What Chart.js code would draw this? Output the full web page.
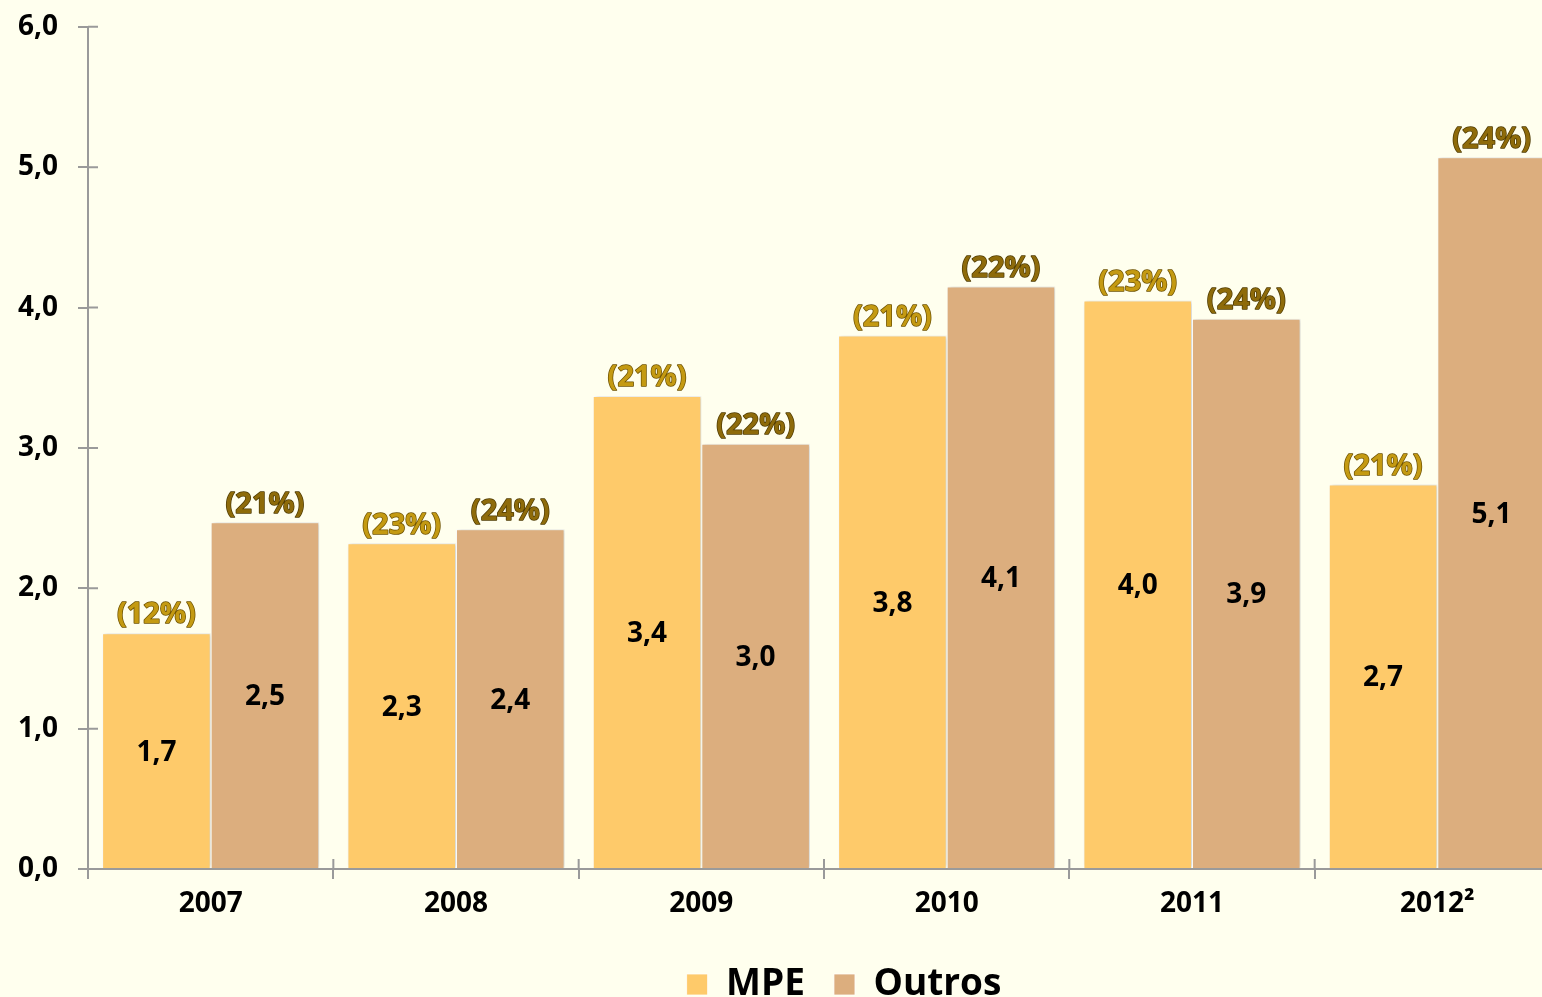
<!DOCTYPE html>
<html>
<head>
<meta charset="utf-8">
<script src="https://cdn.jsdelivr.net/npm/chart.js@4.4.0/dist/chart.umd.min.js"></script>
<style>
  html, body { margin: 0; padding: 0; background: #FFFFEE; overflow: hidden; }
  #wrap { position: absolute; left: 0; top: -10px; width: 1680px; height: 1023px; }
</style>
</head>
<body>
<div id="wrap"><canvas id="c" width="1680" height="1023"></canvas></div>
<script>
const categories = ['2007', '2008', '2009', '2010', '2011', '2012\u00B2'];
const seriesNames = ['MPE', 'Outros'];
const mpeValues = [1.68, 2.32, 3.37, 3.80, 4.05, 2.74];
const outrosValues = [2.47, 2.42, 3.03, 4.15, 3.92, 5.07];
const mpeLabels = ['1,7', '2,3', '3,4', '3,8', '4,0', '2,7'];
const outrosLabels = ['2,5', '2,4', '3,0', '4,1', '3,9', '5,1'];
const mpePct = ['(12%)', '(23%)', '(21%)', '(21%)', '(23%)', '(21%)'];
const outrosPct = ['(21%)', '(24%)', '(22%)', '(22%)', '(24%)', '(24%)'];
const yTicks = [0, 1, 2, 3, 4, 5, 6];

const FONT = '"Open Sans", "Noto Sans", sans-serif';
const AXIS_COLOR = '#9A9A9A';

const labelPlugin = {
  id: 'barLabels',
  afterDatasetsDraw(chart) {
    const ctx = chart.ctx;
    const inner = [mpeLabels, outrosLabels];
    const pcts = [mpePct, outrosPct];
    const pctFill = ['#C49A12', '#8E6B0A'];
    const pctStroke = ['#6E5200', '#4E3A00'];
    chart.data.datasets.forEach((ds, i) => {
      const meta = chart.getDatasetMeta(i);
      meta.data.forEach((el, j) => {
        ctx.save();
        ctx.textAlign = 'center';
        ctx.textBaseline = 'middle';
        ctx.font = 'bold 28px ' + FONT;
        ctx.fillStyle = '#000000';
        ctx.fillText(inner[i][j], el.x, (el.y + el.base) / 2 + 2);
        ctx.font = 'bold 29px ' + FONT;
        ctx.lineWidth = 1.5;
        ctx.lineJoin = 'round';
        ctx.strokeStyle = pctStroke[i];
        ctx.strokeText(pcts[i][j], el.x, el.y - 18);
        ctx.fillStyle = pctFill[i];
        ctx.fillText(pcts[i][j], el.x, el.y - 18);
        ctx.restore();
      });
    });
  }
};

const shadowPlugin = {
  id: 'barShadow',
  beforeDatasetDraw(chart) {
    const ctx = chart.ctx;
    ctx.save();
    ctx.shadowColor = 'rgba(0,0,0,0.18)';
    ctx.shadowBlur = 4;
    ctx.shadowOffsetX = 2;
    ctx.shadowOffsetY = 0;
  },
  afterDatasetDraw(chart) {
    chart.ctx.restore();
  }
};

// Tick marks that also cross to the inner side of each axis
const innerTicksPlugin = {
  id: 'innerTicks',
  afterDraw(chart) {
    const ctx = chart.ctx;
    const xs = chart.scales.x, ys = chart.scales.y;
    ctx.save();
    ctx.strokeStyle = AXIS_COLOR;
    ctx.lineWidth = 2;
    ctx.beginPath();
    ys.ticks.forEach(t => {
      const py = ys.getPixelForValue(t.value);
      ctx.moveTo(ys.right, py);
      ctx.lineTo(ys.right + 10, py);
    });
    const step = xs.getPixelForValue(1) - xs.getPixelForValue(0);
    for (let i = 0; i <= categories.length; i++) {
      const px = xs.getPixelForValue(i) - step / 2;
      ctx.moveTo(px, xs.top);
      ctx.lineTo(px, xs.top - 10);
    }
    ctx.stroke();
    ctx.restore();
  }
};

const legendShiftPlugin = {
  id: 'legendShift',
  afterLayout(chart) {
    if (chart.legend) {
      chart.legend.left += 64;
      chart.legend.right += 64;
    }
  }
};

new Chart(document.getElementById('c'), {
  type: 'bar',
  data: {
    labels: categories,
    datasets: [
      { label: seriesNames[0], data: mpeValues, backgroundColor: '#FECA6A', borderColor: 'rgba(255,255,255,0.75)', borderWidth: 1, borderSkipped: 'bottom' },
      { label: seriesNames[1], data: outrosValues, backgroundColor: '#DCAE7E', borderColor: 'rgba(255,255,255,0.75)', borderWidth: 1, borderSkipped: 'bottom' }
    ]
  },
  options: {
    responsive: false,
    animation: false,
    devicePixelRatio: 1,
    layout: { padding: { left: 0, right: 120, top: 15, bottom: 0 } },
    datasets: { bar: { categoryPercentage: 0.885, barPercentage: 1.0 } },
    plugins: {
      tooltip: { enabled: false },
      legend: {
        position: 'bottom',
        labels: {
          boxWidth: 21, boxHeight: 21, padding: 29,
          color: '#000000',
          font: { family: FONT, size: 37, weight: 'bold' }
        }
      }
    },
    scales: {
      x: {
        offset: true,
        grid: { display: true, drawOnChartArea: false, offset: true, tickLength: 10, color: AXIS_COLOR, lineWidth: 2 },
        border: { display: true, color: AXIS_COLOR, width: 2 },
        ticks: { color: '#000000', padding: 8, font: { family: FONT, size: 28, weight: 'bold' } },
        afterFit(scale) { scale.height = 68; }
      },
      y: {
        min: 0, max: 6,
        afterBuildTicks(scale) { scale.ticks = yTicks.map(v => ({ value: v })); },
        grid: { display: true, drawOnChartArea: false, tickLength: 10, color: AXIS_COLOR, lineWidth: 2 },
        border: { display: true, color: AXIS_COLOR, width: 2 },
        ticks: {
          color: '#000000', padding: 20,
          font: { family: FONT, size: 28, weight: 'bold' },
          callback: v => Number(v).toFixed(1).replace('.', ',')
        },
        afterFit(scale) { scale.width = 88; }
      }
    }
  },
  plugins: [shadowPlugin, labelPlugin, innerTicksPlugin, legendShiftPlugin]
});
</script>
</body>
</html>
